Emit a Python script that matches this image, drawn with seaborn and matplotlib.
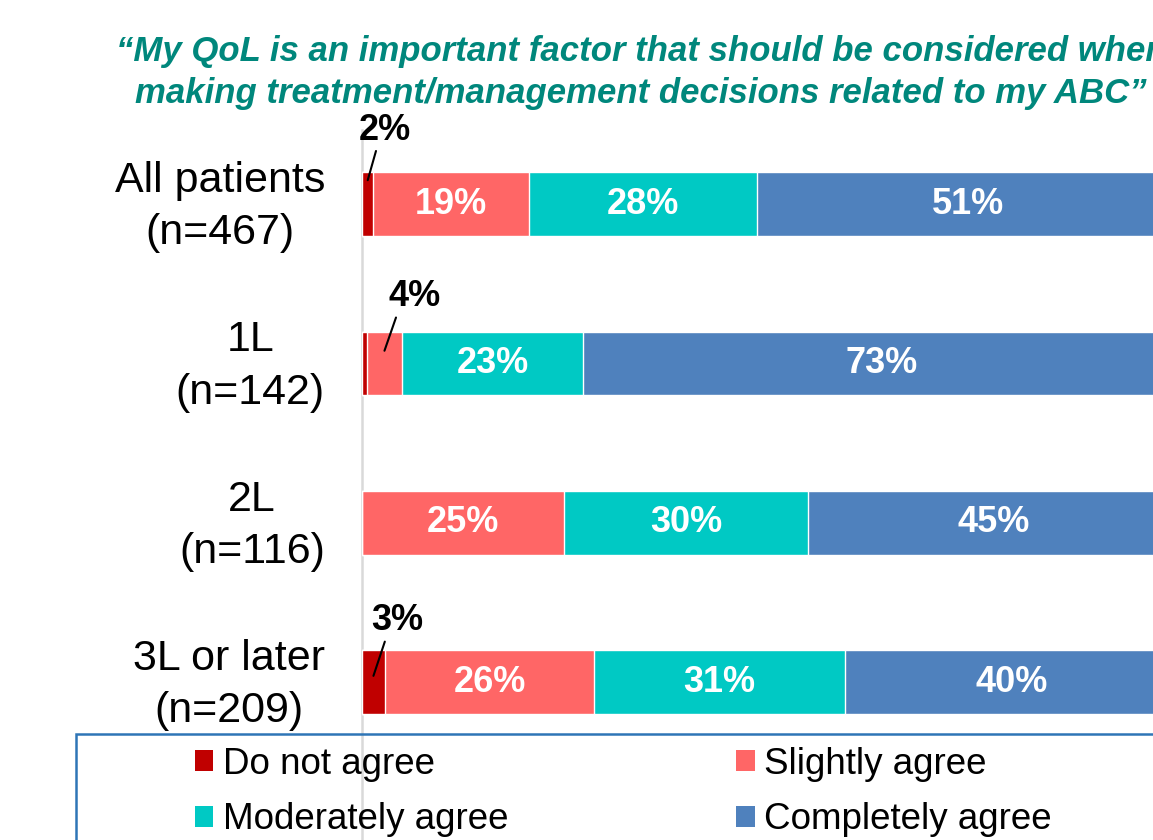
import numpy as np
import pandas as pd
import matplotlib
matplotlib.use("Agg")
import matplotlib.pyplot as plt
from matplotlib.patches import Patch, Rectangle
from matplotlib.transforms import ScaledTranslation
import seaborn as sns

# ---------------- data ----------------
groups = ["All patients\n(n=467)", "1L\n(n=142)", "2L\n(n=116)", "3L or later\n(n=209)"]
series = ["Do not agree", "Slightly agree", "Moderately agree", "Completely agree"]
do_not_agree = [1.4, 0.6, 0.0, 2.8]
slightly_agree = [19.0, 4.3, 24.7, 25.6]
moderately_agree = [28.0, 22.2, 29.9, 30.7]
completely_agree = [51.6, 72.9, 45.4, 40.9]
do_not_labels = ["2%", "", "", "3%"]
slightly_labels = ["19%", "4%", "25%", "26%"]
moderately_labels = ["28%", "23%", "30%", "31%"]
completely_labels = ["51%", "73%", "45%", "40%"]
title_lines = ["\u201cMy QoL is an important factor that should be considered when",
               "making treatment/management decisions related to my ABC\u201d"]

colors = ["#C00000", "#FF6666", "#00C9C4", "#4F81BD"]
title_color = "#00877C"

sns.set_theme(style="white")
plt.rcParams["font.family"] = ["Liberation Sans", "DejaVu Sans"]
plt.rcParams["text.color"] = "black"

W, H = 1153, 840
fig = plt.figure(figsize=(W / 100, H / 100), dpi=100)
ax = fig.add_axes([362 / W, 0, 817 / W, (H - 130) / H])

values = [do_not_agree, slightly_agree, moderately_agree, completely_agree]
labels = [do_not_labels, slightly_labels, moderately_labels, completely_labels]
cum = np.cumsum(np.array(values), axis=0)

df = pd.DataFrame({"group": groups})
for i in range(3, -1, -1):
    df["v"] = cum[i]
    sns.barplot(data=df, x="v", y="group", orient="h", color=colors[i],
                saturation=1, width=0.4, ax=ax, errorbar=None, zorder=2)

ax.set_xlim(0, 100)
ax.set_ylim(3.99, -0.465)
ax.set_xlabel("")
ax.set_ylabel("")
ax.set_xticks([])
ax.set_yticks(range(len(groups)))
ax.set_yticklabels([])
ax.tick_params(axis="y", length=0)
for s in ["top", "right", "bottom"]:
    ax.spines[s].set_visible(False)
ax.spines["left"].set_color("#D9D9D9")
ax.spines["left"].set_linewidth(1.8)
ax.spines["left"].set_zorder(0)

# category labels (centred lines, block right-aligned next to the axis)
lab_tr = ax.transData + ScaledTranslation(-37 / 100, -3 / 100, fig.dpi_scale_trans)
for j, g in enumerate(groups):
    ax.text(0, j, g, transform=lab_tr, ha="right", va="center",
            multialignment="center", fontsize=31, linespacing=1.4,
            color="black", clip_on=False)

# in-bar labels
for i in range(4):
    starts = cum[i] - np.array(values[i])
    for j in range(4):
        v = values[i][j]
        if v >= 5:
            ax.text(starts[j] + v / 2, j, labels[i][j], ha="center", va="center",
                    color="white", fontsize=26, fontweight="bold", zorder=5)

# small callouts: (series index, group index, xy offset in cat units, text offset px, relpos)
callouts = [(0, 0, -0.15, (17, 50), 0.36),
            (1, 1, -0.08, (30, 54), 0.18),
            (0, 3, -0.04, (24, 55), 0.29)]
for si, gi, dy, (ox, oy), rx in callouts:
    start = cum[si][gi] - values[si][gi]
    xc = start + values[si][gi] / 2
    ax.annotate(labels[si][gi], xy=(xc, gi + dy), xytext=(ox, oy),
                textcoords="offset pixels", ha="center", va="center",
                fontsize=26, fontweight="bold", color="black",
                annotation_clip=False,
                arrowprops=dict(arrowstyle="-", color="black", lw=1.5,
                                shrinkA=0, shrinkB=0, relpos=(rx, 0.05)))

# title
fig.text(641 / W, 1 - 51 / H, title_lines[0], ha="center", va="center",
         fontsize=25, fontweight="bold", fontstyle="italic", color=title_color)
fig.text(641 / W, 1 - 93 / H, title_lines[1], ha="center", va="center",
         fontsize=25, fontweight="bold", fontstyle="italic", color=title_color)

# legend box
fig.patches.append(Rectangle((76 / W, -0.05), 1.2, 0.05 + (H - 734) / H,
                             transform=fig.transFigure, fill=False,
                             edgecolor="#2E75B6", linewidth=1.8, zorder=3))
handles = [Patch(facecolor=colors[k], edgecolor="none", label=series[k]) for k in [0, 2, 1, 3]]
fig.legend(handles=handles, loc="upper left", bbox_to_anchor=(195 / W, 1 - 747 / H),
           ncol=2, frameon=False, fontsize=26.5, handlelength=0.5, handleheight=0.5,
           handletextpad=0.25, columnspacing=6.2, labelspacing=0.55,
           borderpad=0, borderaxespad=0, labelcolor="black")

fig.savefig("out.png", dpi=100)
